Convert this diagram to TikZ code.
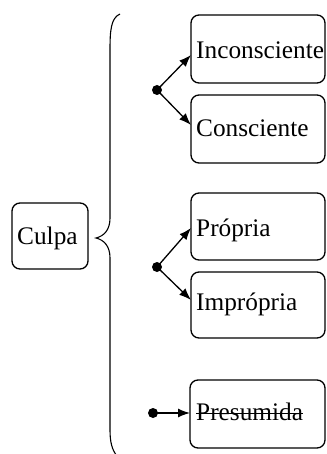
\documentclass[tikz,border=0pt]{standalone}
\usepackage{fontspec}
\setmainfont{Liberation Serif}
\usetikzlibrary{arrows.meta}
\begin{document}
\begin{tikzpicture}[x=1pt,y=-1pt,
  box/.style={draw,line width=1.3pt,rounded corners=8pt,inner sep=0pt},
  txt/.style={inner sep=0pt,anchor=base west,font=\fontsize{25.3}{30}\selectfont},
  dot/.style={circle,fill=black,inner sep=0pt,minimum size=10pt},
  arr/.style={line width=1.3pt,-{Latex[length=12pt,width=9pt]}}]
\useasboundingbox (0,0) rectangle (326,454);
% boxes
\node[box,minimum width=76pt,minimum height=66pt] (culpa) at (50,236) {};
\node[box,minimum width=134pt,minimum height=68pt] (inc) at (258,49) {};
\node[box,minimum width=134pt,minimum height=68pt] (con) at (258,129) {};
\node[box,minimum width=134pt,minimum height=67pt] (pro) at (258,226.5) {};
\node[box,minimum width=134pt,minimum height=66pt] (imp) at (258,305) {};
\node[box,minimum width=135pt,minimum height=68pt] (pre) at (257.5,414) {};
% texts
\node[txt] (tculpa) at (17,244) {Culpa};
\node[txt] (tinc) at (196,59) {Inconsciente};
\node[txt] (tcon) at (196,137) {Consciente};
\node[txt] (tpro) at (196,236) {Própria};
\node[txt] (timp) at (196,310) {Imprópria};
\node[txt] (tpre) at (196,420) {Presumida};
\draw[line width=1pt] ([yshift=7pt]tpre.base west) -- ([yshift=7pt]tpre.base east);
% brace
\draw[line width=1.1pt] (120,14) .. controls (111,18) and (110,30) .. (110,50)
  -- (110,218) .. controls (110,230) and (104,236) .. (96,238)
  .. controls (104,240) and (110,246) .. (110,258)
  -- (110,430) .. controls (110,442) and (112,450) .. (117,456);
% dots and arrows
\node[dot] (d1) at (157,90) {};
\node[dot] (d2) at (157,267) {};
\node[dot] (d3) at (153,413) {};
\coordinate (e1) at (191,55);
\coordinate (e2) at (191,125);
\coordinate (e3) at (191,228);
\coordinate (e4) at (191,300);
\coordinate (e5) at (190,413);
\draw[arr] (d1.center) -- (e1);
\draw[arr] (d1.center) -- (e2);
\draw[arr] (d2.center) -- (e3);
\draw[arr] (d2.center) -- (e4);
\draw[arr] (d3.center) -- (e5);
\end{tikzpicture}
\end{document}
